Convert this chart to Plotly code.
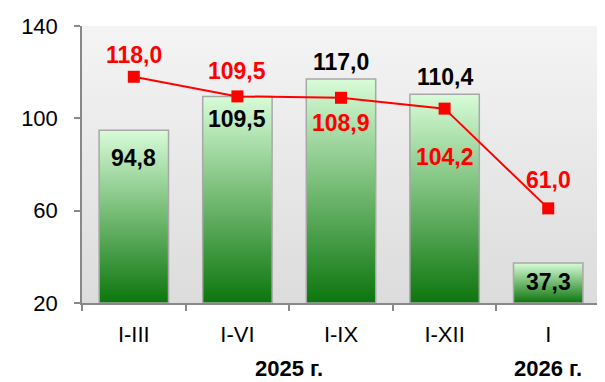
import plotly.graph_objects as go

# ---- data ----
categories = ["I-III", "I-VI", "I-IX", "I-XII", "I"]
bar_values = [94.8, 109.5, 117.0, 110.4, 37.3]
line_values = [118.0, 109.5, 108.9, 104.2, 61.0]
year_labels = ["2025 г.", "2026 г."]
year_groups = [[0, 1, 2, 3], [4]]
y_ticks = [20, 60, 100, 140]

# ---- styles ----
BASE = 20
HALF = 0.335
bar_label_shift = [-28, -23, 17, 17, -19]   # px relative to bar top
line_label_shift = [22, 25, -25, -48, 28]   # px relative to marker
FONT = "Liberation Sans, Arial, sans-serif"
PAGE_OFFSET = 8  # default body margin of the html page

def fmt(v):
    return f"{v:.1f}".replace(".", ",")

fig = go.Figure()

# plot-area background gradient
fig.add_trace(go.Scatter(
    x=[-0.5, 4.5, 4.5, -0.5, -0.5], y=[BASE, BASE, 140, 140, BASE],
    fill="toself", mode="none", hoverinfo="skip", showlegend=False,
    fillgradient=dict(type="vertical",
                      colorscale=[[0, "#dcdcdc"], [1, "#f4f4f4"]]),
))

# gradient bars
for i, v in enumerate(bar_values):
    fig.add_trace(go.Scatter(
        x=[i - HALF, i + HALF, i + HALF, i - HALF, i - HALF],
        y=[BASE, BASE, v, v, BASE],
        fill="toself", mode="lines", hoverinfo="skip", showlegend=False,
        line=dict(color="#a8a8a8", width=1.5),
        fillgradient=dict(type="vertical",
                          colorscale=[[0, "#0c760c"], [1, "#d8fcd8"]]),
    ))

# red line
fig.add_trace(go.Scatter(
    x=list(range(len(categories))), y=line_values, mode="lines+markers",
    line=dict(color="#ff0000", width=2),
    marker=dict(symbol="square", size=12, color="#ff0000"),
    showlegend=False, hoverinfo="skip",
))

annotations = []
for i, v in enumerate(bar_values):
    annotations.append(dict(x=i, y=v, text=f"<b>{fmt(v)}</b>", showarrow=False,
                            yshift=bar_label_shift[i],
                            font=dict(family=FONT, size=23, color="#000000")))
for i, v in enumerate(line_values):
    annotations.append(dict(x=i, y=v, text=f"<b>{fmt(v)}</b>", showarrow=False,
                            yshift=line_label_shift[i],
                            font=dict(family=FONT, size=23, color="#ff0000")))
for lab, grp in zip(year_labels, year_groups):
    annotations.append(dict(x=sum(grp) / len(grp), y=0, xref="x", yref="paper",
                            yanchor="middle", xanchor="center",
                            text=f"<b>{lab}</b>", showarrow=False, yshift=-65,
                            font=dict(family=FONT, size=22, color="#000000")))

fig.update_layout(
    width=605 - PAGE_OFFSET, height=382 - PAGE_OFFSET,
    margin=dict(l=82 - PAGE_OFFSET, r=5, t=26 - PAGE_OFFSET, b=79, autoexpand=False),
    paper_bgcolor="white", plot_bgcolor="rgba(0,0,0,0)",
    annotations=annotations,
    font=dict(family=FONT, size=22, color="#000000"),
)
fig.update_xaxes(
    range=[-0.5, 4.5], tickmode="array", automargin=False,
    tickvals=list(range(len(categories))), ticktext=categories,
    ticks="", ticklabelstandoff=11, showgrid=False, zeroline=False,
    showline=True, linecolor="#888888", linewidth=1.5,
    minor=dict(tickmode="array", tickvals=[k - 0.5 for k in range(len(categories) + 1)],
               ticks="outside", ticklen=6, tickwidth=1.5, tickcolor="#888888",
               showgrid=False),
    tickfont=dict(family=FONT, size=22),
)
fig.update_yaxes(
    range=[BASE, 140], tickmode="array", tickvals=y_ticks, automargin=False,
    ticks="outside", ticklen=6, tickwidth=1.5, tickcolor="#888888",
    ticklabelstandoff=12, showgrid=False, zeroline=False,
    showline=True, linecolor="#888888", linewidth=1.5,
    tickfont=dict(family=FONT, size=22),
)

fig.write_html("out.html")
